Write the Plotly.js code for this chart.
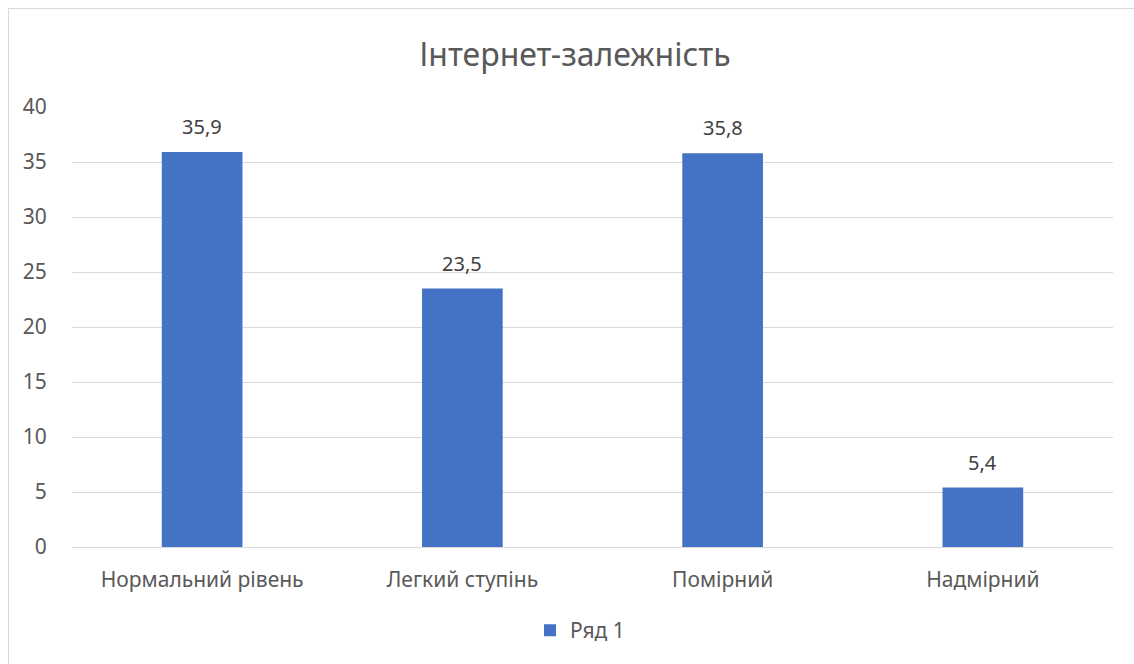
<!DOCTYPE html>
<html>
<head>
<meta charset="utf-8">
<script src="https://cdn.plot.ly/plotly-3.0.1.min.js"></script>
<style>
  html, body { margin: 0; padding: 0; background: #ffffff; overflow: hidden; }
  #frame { position: absolute; left: 8px; top: 8px; width: 1140px; height: 670px; border: 1px solid #d9d9d9; box-sizing: border-box; }
  #chart { position: absolute; left: 0; top: 0; width: 1134px; height: 664px; }
</style>
</head>
<body>
<div id="frame"></div>
<div id="chart"></div>
<script>
// Internet addiction levels, percent of respondents
const categories = ["Нормальний рівень", "Легкий ступінь", "Помірний", "Надмірний"];
const values = [35.9, 23.5, 35.8, 5.4];
const seriesName = "Ряд 1";
const chartTitle = "Інтернет-залежність";

const fontFamily = "'Noto Sans', 'Open Sans', sans-serif";
const textGrey = "#595959";

const labelText = values.map(v => v.toFixed(1).replace(".", ","));

const trace = {
  type: "bar",
  x: categories,
  y: values,
  name: seriesName,
  marker: { color: "#4472c4" },
  hoverinfo: "x+y"
};

const annotations = categories.map((c, i) => ({
  x: c,
  y: values[i],
  xref: "x",
  yref: "y",
  text: labelText[i],
  showarrow: false,
  yanchor: "bottom",
  yshift: 10,
  font: { family: fontFamily, size: 20, color: "#404040" }
}));

const layout = {
  width: 1134,
  height: 664,
  paper_bgcolor: "rgba(0,0,0,0)",
  plot_bgcolor: "rgba(0,0,0,0)",
  margin: { l: 72, r: 21, t: 107, b: 117 },
  title: {
    text: chartTitle,
    font: { family: fontFamily, size: 32, color: textGrey },
    x: 0.507,
    xanchor: "center",
    y: 0.918,
    yanchor: "middle"
  },
  bargap: 0.69,
  xaxis: {
    type: "category",
    showgrid: false,
    zeroline: false,
    showline: false,
    ticks: "outside",
    ticklen: 14,
    tickcolor: "rgba(0,0,0,0)",
    tickfont: { family: fontFamily, size: 21, color: textGrey }
  },
  yaxis: {
    range: [0, 40],
    dtick: 5,
    tick0: 0,
    showgrid: true,
    gridcolor: "#d9d9d9",
    gridwidth: 1,
    zeroline: true,
    zerolinecolor: "#d9d9d9",
    zerolinewidth: 1,
    showline: false,
    ticks: "outside",
    ticklen: 20,
    tickcolor: "rgba(0,0,0,0)",
    tickfont: { family: fontFamily, size: 21, color: textGrey }
  },
  showlegend: true,
  legend: {
    orientation: "h",
    x: 0.488,
    xanchor: "center",
    y: -0.19,
    yanchor: "middle",
    font: { family: fontFamily, size: 21, color: textGrey },
    itemwidth: 30
  },
  annotations: annotations
};

Plotly.newPlot("chart", [trace], layout, { displayModeBar: false, staticPlot: true });
</script>
</body>
</html>
